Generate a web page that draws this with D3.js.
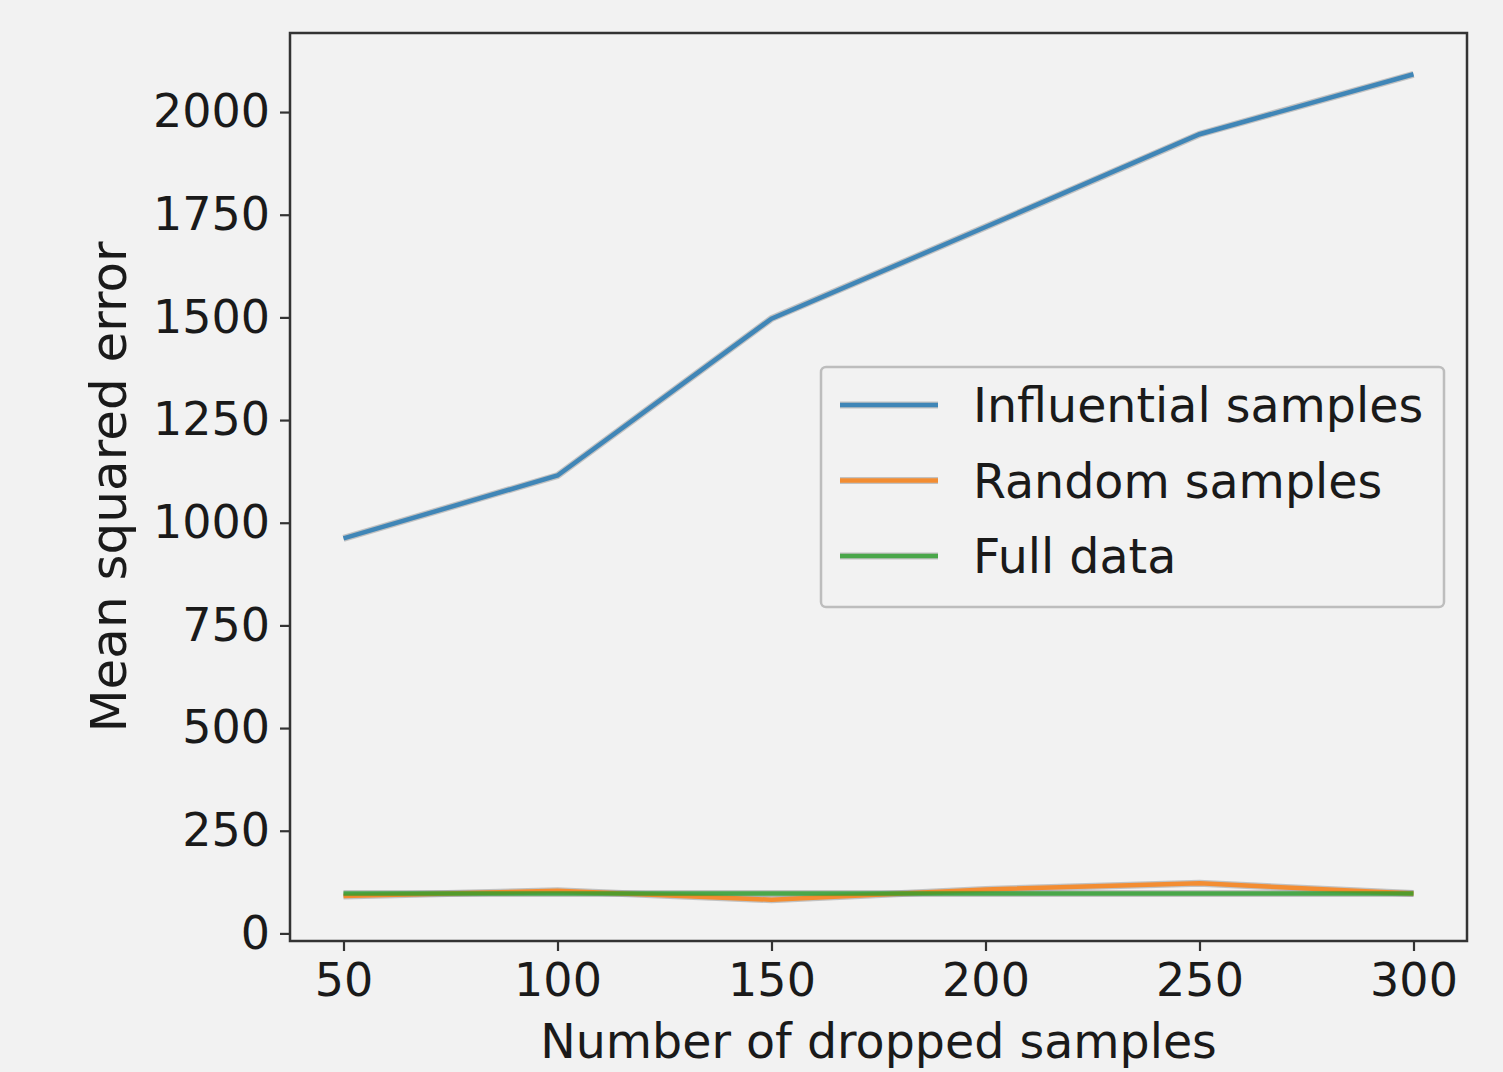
<!DOCTYPE html>
<html>
<head>
<meta charset="utf-8">
<script src="https://cdn.jsdelivr.net/npm/d3@7"></script>
<style>
  body { margin: 0; background: #f2f2f2; }
  text { font-family: "DejaVu Sans", sans-serif; fill: #1a1a1a; }
</style>
</head>
<body>
<script>
// data
var dropped = [50, 100, 150, 200, 250, 300];
var influential = [962, 1115, 1497, 1720, 1946, 2092];
var randomSamples = [91, 104, 82, 107, 122, 97];
var fullData = [97, 97, 97, 97, 97, 97];
var seriesNames = ["Influential samples", "Random samples", "Full data"];
var seriesColors = ["#1f77b4", "#ff7f0e", "#2ca02c"];
var xTicks = [50, 100, 150, 200, 250, 300];
var yTicks = [0, 250, 500, 750, 1000, 1250, 1500, 1750, 2000];

var width = 1503, height = 1072;
// plot box (note: "top" is taken by window.top, so use other names)
var pLeft = 290, pRight = 1467, pTop = 33, pBottom = 941;

var svg = d3.select("body").append("svg")
    .attr("width", width)
    .attr("height", height);

svg.append("rect").attr("width", width).attr("height", height).attr("fill", "#f2f2f2");

// matplotlib style 5% margins
var xMin = d3.min(dropped), xMax = d3.max(dropped);
var xPad = (xMax - xMin) * 0.05;
var allY = influential.concat(randomSamples, fullData);
var yMin = d3.min(allY), yMax = d3.max(allY);
var yPad = (yMax - yMin) * 0.05;

var x = d3.scaleLinear().domain([xMin - xPad, xMax + xPad]).range([pLeft, pRight]);
var y = d3.scaleLinear().domain([yMin - yPad, yMax + yPad]).range([pBottom, pTop]);

var series = [influential, randomSamples, fullData];

var line = d3.line()
    .x(function(d, i) { return x(dropped[i]); })
    .y(function(d) { return y(d); });

// lines, with a faint grey halo like the picture
series.forEach(function(s, i) {
    svg.append("path")
        .attr("d", line(s))
        .attr("fill", "none")
        .attr("stroke", "#9a9a9a")
        .attr("stroke-opacity", 0.55)
        .attr("stroke-width", 7);
});
series.forEach(function(s, i) {
    svg.append("path")
        .attr("d", line(s))
        .attr("fill", "none")
        .attr("stroke", seriesColors[i])
        .attr("stroke-opacity", 0.8)
        .attr("stroke-width", 4.5);
});

// axes, plain integer labels (no thousands comma)
var xAxis = svg.append("g")
    .attr("transform", "translate(0," + pBottom + ")")
    .call(d3.axisBottom(x).tickValues(xTicks).tickFormat(d3.format("d")).tickSize(10).tickPadding(12));
var yAxis = svg.append("g")
    .attr("transform", "translate(" + pLeft + ",0)")
    .call(d3.axisLeft(y).tickValues(yTicks).tickFormat(d3.format("d")).tickSize(10).tickPadding(10));

[xAxis, yAxis].forEach(function(a) {
    a.select(".domain").remove();
    a.selectAll("line").attr("stroke", "#333").attr("stroke-width", 2.2);
    a.selectAll("text")
        .style("font-family", "DejaVu Sans")
        .style("font-size", "46px")
        .attr("fill", "#1a1a1a");
});

// frame
svg.append("rect")
    .attr("x", pLeft).attr("y", pTop)
    .attr("width", pRight - pLeft).attr("height", pBottom - pTop)
    .attr("fill", "none")
    .attr("stroke", "#333")
    .attr("stroke-width", 2.5);

// axis labels
svg.append("text")
    .attr("x", (pLeft + pRight) / 2)
    .attr("y", 1058)
    .attr("text-anchor", "middle")
    .style("font-size", "47.5px")
    .text("Number of dropped samples");

svg.append("text")
    .attr("transform", "translate(126," + (pTop + pBottom) / 2 + ") rotate(-90)")
    .attr("text-anchor", "middle")
    .style("font-size", "50px")
    .text("Mean squared error");

// legend
var legend = svg.append("g");
legend.append("rect")
    .attr("x", 821).attr("y", 367)
    .attr("width", 623).attr("height", 240)
    .attr("rx", 5)
    .attr("fill", "#f2f2f2")
    .attr("stroke", "#bdbdbd")
    .attr("stroke-width", 2.5);

seriesNames.forEach(function(name, i) {
    var ly = 405 + i * 75.5;
    legend.append("line")
        .attr("x1", 840).attr("x2", 938)
        .attr("y1", ly).attr("y2", ly)
        .attr("stroke", "#9a9a9a")
        .attr("stroke-opacity", 0.55)
        .attr("stroke-width", 7);
    legend.append("line")
        .attr("x1", 840).attr("x2", 938)
        .attr("y1", ly).attr("y2", ly)
        .attr("stroke", seriesColors[i])
        .attr("stroke-opacity", 0.8)
        .attr("stroke-width", 4.5);
    legend.append("text")
        .attr("x", 973)
        .attr("y", ly + 17)
        .style("font-size", "47.5px")
        .text(name);
});
</script>
</body>
</html>
